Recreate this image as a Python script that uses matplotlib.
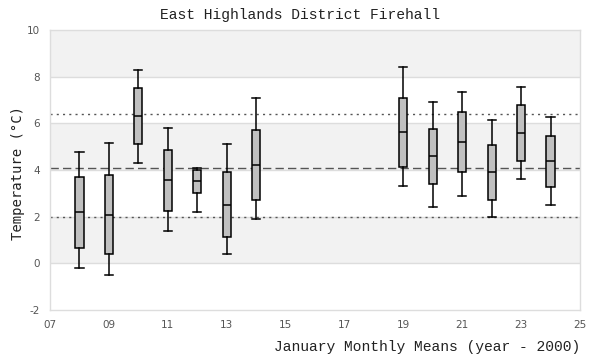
import matplotlib
matplotlib.use("Agg")
import matplotlib.pyplot as plt

plt.rcParams["axes.unicode_minus"] = False

years = [8, 9, 10, 11, 12, 13, 14, 19, 20, 21, 22, 23, 24]
whislo = [-0.21, -0.51, 4.29, 1.37, 2.19, 0.39, 1.89, 3.30, 2.40, 2.87, 1.97, 3.60, 2.49]
q1 = [0.67, 0.39, 5.10, 2.23, 3.00, 1.11, 2.70, 4.11, 3.39, 3.90, 2.70, 4.37, 3.27]
med = [2.19, 2.06, 6.30, 3.56, 3.51, 2.50, 4.20, 5.61, 4.59, 5.19, 3.90, 5.57, 4.37]
q3 = [3.69, 3.77, 7.50, 4.84, 3.99, 3.90, 5.70, 7.10, 5.77, 6.47, 5.09, 6.77, 5.47]
whishi = [4.79, 5.17, 8.27, 5.79, 4.07, 5.10, 7.07, 8.40, 6.90, 7.36, 6.16, 7.57, 6.29]
mean_line = 4.07
upper_line = 6.39
lower_line = 1.97
xticks = [7, 9, 11, 13, 15, 17, 19, 21, 23, 25]
xticklabels = ["07", "09", "11", "13", "15", "17", "19", "21", "23", "25"]
yticks = [-2, 0, 2, 4, 6, 8, 10]

fig = plt.figure(figsize=(6, 3.6), dpi=100)
ax = fig.add_axes([50/600, 1-310/360, 530/600, 280/360])
ax.set_xlim(7, 25)
ax.set_ylim(-2, 10)

for lo, hi in [(8, 10), (4, 6), (0, 2)]:
    ax.axhspan(lo, hi, color="#f2f2f2", zorder=0, lw=0)
for y in yticks[1:-1]:
    ax.axhline(y, color="#dddddd", lw=1, zorder=0.5)

ax.axhline(upper_line, color="#555555", lw=1, ls=(0, (1.5, 3)), zorder=1)
ax.axhline(lower_line, color="#555555", lw=1, ls=(0, (1.5, 3)), zorder=1)
ax.axhline(mean_line, color="#555555", lw=1, ls=(0, (6, 3)), zorder=1)

stats = []
for i in range(len(years)):
    stats.append(dict(whislo=whislo[i], q1=q1[i], med=med[i], q3=q3[i],
                      whishi=whishi[i], fliers=[]))
ax.bxp(stats, positions=years, widths=0.28, patch_artist=True,
       showfliers=False, manage_ticks=False,
       boxprops=dict(facecolor="#c0c0c0", edgecolor="black", lw=1.1),
       medianprops=dict(color="black", lw=1.1),
       whiskerprops=dict(color="black", lw=1.1),
       capprops=dict(color="black", lw=1.1),
       capwidths=0.28, zorder=3)

ax.set_xticks(xticks)
ax.set_xticklabels(xticklabels)
ax.set_yticks(yticks)
ax.tick_params(length=0, labelsize=7.5, colors="#555555", pad=7)
for s in ax.spines.values():
    s.set_color("#dddddd")
    s.set_linewidth(1)

mono = "Liberation Mono"
fig.text(300/600, 1-15/360, "East Highlands District Firehall", ha="center",
         va="center", family=mono, fontsize=10.5, color="#222222")
fig.text(580/600, 1-347/360, "January Monthly Means (year - 2000)", ha="right",
         va="center", family=mono, fontsize=10.5, color="#222222")
fig.text(18/600, 1-173/360, "Temperature (°C)", ha="center", va="center",
         rotation=90, family="DejaVu Sans Mono", fontsize=10, color="#222222")

fig.savefig("out.png", dpi=100)
